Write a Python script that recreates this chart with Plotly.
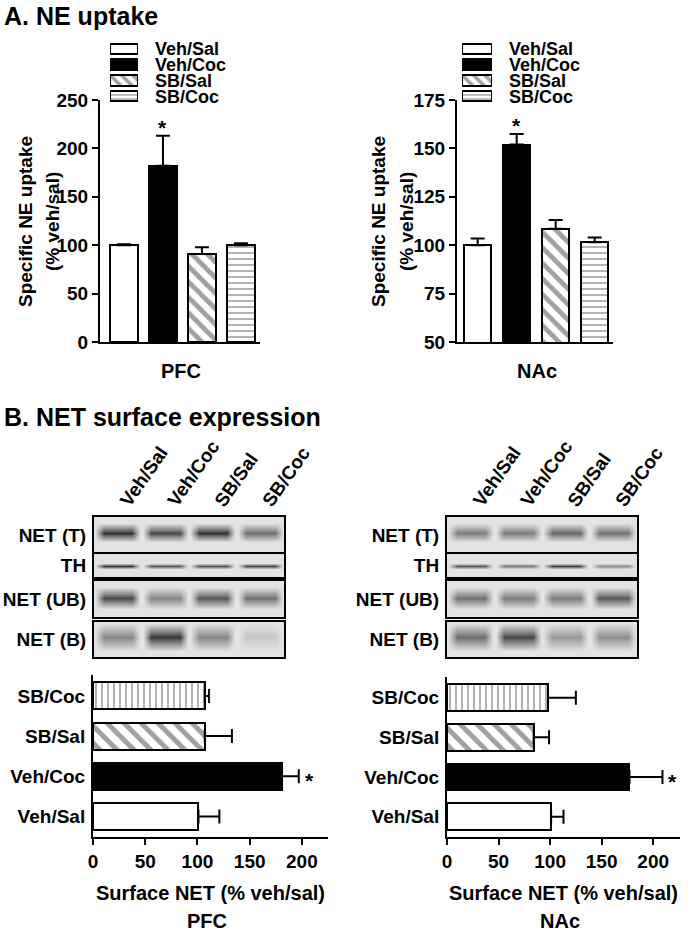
import plotly.graph_objects as go

W, H = 693, 934
FONT = "Liberation Sans, Arial, Helvetica, sans-serif"

# ---------------- data ----------------
groups = ["Veh/Sal", "Veh/Coc", "SB/Sal", "SB/Coc"]

# Panel A: specific NE uptake (% veh/sal)
uptake_pfc = [100, 182, 91, 100]
uptake_pfc_err = [1, 31, 7, 2]
uptake_nac = [100, 152, 108.5, 101.5]
uptake_nac_err = [3.5, 5.5, 4.5, 2.5]
uptake_pfc_ticks = [0, 50, 100, 150, 200, 250]
uptake_nac_ticks = [50, 75, 100, 125, 150, 175]

# Panel B: surface NET (% veh/sal)
surface_pfc = [101, 181, 107, 107]
surface_pfc_err = [20, 16, 26, 4]
surface_nac = [101, 177, 84, 98]
surface_nac_err = [12, 32, 15, 27]
surface_ticks = [0, 50, 100, 150, 200]

significant = [False, True, False, False]

# Western blot band intensities (0 = background, 1 = darkest)
blot_rows = ["NET (T)", "TH", "NET (UB)", "NET (B)"]
pfc_net_t = [0.88, 0.78, 0.88, 0.62]
pfc_th = [0.85, 0.7, 0.72, 0.78]
pfc_net_ub = [0.78, 0.5, 0.72, 0.6]
pfc_net_b = [0.5, 0.85, 0.5, 0.15]
nac_net_t = [0.55, 0.55, 0.65, 0.6]
nac_th = [0.7, 0.55, 0.8, 0.45]
nac_net_ub = [0.6, 0.55, 0.55, 0.72]
nac_net_b = [0.62, 0.78, 0.4, 0.45]

# ---------------- styles ----------------
fills = ["white", "black", "white", "white"]
patterns_a = ["", "", "\\", "-"]
patterns_b = ["", "", "\\", "|"]


def fx(px):
    return px / W


def fy(py):
    return 1 - py / H


def font(size):
    return dict(family=FONT, size=size, color="black", weight="bold")


fig = go.Figure()
annotations = []

axis_common = dict(showgrid=False, zeroline=False, showline=True, linecolor="black",
                   linewidth=2, tickcolor="black", tickwidth=2, ticklen=6,
                   tickfont=font(19), automargin=False)

layout_axes = {}


def ax_name(kind, n):
    return f"{kind}axis" if n == 1 else f"{kind}axis{n}"


def ref(kind, n):
    return kind if n == 1 else f"{kind}{n}"


def paper_text(x, y, text, size, xanchor="center", yanchor="middle", angle=0):
    annotations.append(dict(x=fx(x), y=fy(y), xref="paper", yref="paper", text=text,
                            showarrow=False, xanchor=xanchor, yanchor=yanchor,
                            textangle=angle, font=font(size)))


# ---------- Panel A bar charts ----------
def vbar_panel(n, vals, errs, ticks, xdom, ydom, xrange_, yrange_, region, region_x,
               t1x, t2x):
    fig.add_trace(go.Bar(
        x=groups, y=vals, width=0.7,
        marker=dict(color=fills, line=dict(color="black", width=2),
                    pattern=dict(shape=patterns_a, fgcolor="black", bgcolor="white",
                                 size=[8, 8, 11, 6], solidity=[0.3, 0.3, 0.45, 0.27])),
        error_y=dict(type="data", array=errs, arrayminus=[0] * len(errs), symmetric=False,
                     color="black", thickness=2, width=7),
        xaxis=ref("x", n), yaxis=ref("y", n), showlegend=False, hoverinfo="skip"))
    layout_axes[ax_name("x", n)] = dict(axis_common, domain=[fx(xdom[0]), fx(xdom[1])],
                                       range=xrange_, showticklabels=False, ticks="",
                                       anchor=ref("y", n), type="category")
    layout_axes[ax_name("y", n)] = dict(axis_common, domain=[fy(ydom[1]), fy(ydom[0])],
                                       range=yrange_, tickvals=ticks, ticks="outside",
                                       anchor=ref("x", n))
    for g, v, e, s in zip(groups, vals, errs, significant):
        if s:
            annotations.append(dict(x=g, y=v + e, xref=ref("x", n), yref=ref("y", n),
                                    text="*", showarrow=False, xanchor="center",
                                    yanchor="bottom", yshift=-5, font=font(21)))
    paper_text(region_x, 371, region, 20)
    paper_text(t1x, 222, "Specific NE uptake", 19, angle=-90)
    paper_text(t2x, 222, "(% veh/sal)", 19, angle=-90)


vbar_panel(1, uptake_pfc, uptake_pfc_err, uptake_pfc_ticks, (100, 260), (100, 342),
           [-0.615, 3.49], [0, 250], "PFC", 181, 25, 52)
vbar_panel(2, uptake_nac, uptake_nac_err, uptake_nac_ticks, (457, 613), (100, 342),
           [-0.53, 3.47], [50, 175], "NAc", 537, 378, 406)


# ---------- Panel A legends ----------
def legend_panel(n, xdom, ydom):
    fig.add_trace(go.Bar(
        y=groups, x=[1] * len(groups), orientation="h", width=0.66, cliponaxis=False,
        marker=dict(color=fills, line=dict(color="black", width=2),
                    pattern=dict(shape=patterns_a, fgcolor="black", bgcolor="white",
                                 size=[8, 8, 8, 4], solidity=[0.3, 0.3, 0.45, 0.35])),
        xaxis=ref("x", n), yaxis=ref("y", n), showlegend=False, hoverinfo="skip"))
    layout_axes[ax_name("x", n)] = dict(domain=[fx(xdom[0]), fx(xdom[1])], range=[0, 1],
                                       visible=False, automargin=False,
                                       anchor=ref("y", n))
    layout_axes[ax_name("y", n)] = dict(domain=[fy(ydom[1]), fy(ydom[0])],
                                       range=[len(groups) - 0.5, -0.5], visible=False,
                                       automargin=False, type="category",
                                       anchor=ref("x", n))
    for g in groups:
        annotations.append(dict(x=1, y=g, xref=ref("x", n), yref=ref("y", n), text=g,
                                showarrow=False, xanchor="left", yanchor="middle",
                                xshift=15, height=15, font=font(18)))


legend_panel(3, (110, 138), (41, 104))
legend_panel(4, (462, 492), (41, 104))


# ---------- Panel B horizontal bar charts ----------
def hbar_panel(n, vals, errs, xdom, ydom, xrange_, region, cx):
    fig.add_trace(go.Bar(
        y=groups, x=vals, orientation="h", width=0.67,
        marker=dict(color=fills, line=dict(color="black", width=2),
                    pattern=dict(shape=patterns_b, fgcolor="black", bgcolor="white",
                                 size=[8, 8, 12, 6], solidity=[0.3, 0.3, 0.42, 0.27])),
        error_x=dict(type="data", array=errs, arrayminus=[0] * len(errs), symmetric=False,
                     color="black", thickness=2, width=7),
        xaxis=ref("x", n), yaxis=ref("y", n), showlegend=False, hoverinfo="skip"))
    layout_axes[ax_name("x", n)] = dict(axis_common, domain=[fx(xdom[0]), fx(xdom[1])],
                                       range=xrange_, tickvals=surface_ticks,
                                       ticks="outside", anchor=ref("y", n))
    layout_axes[ax_name("y", n)] = dict(axis_common, domain=[fy(ydom[1]), fy(ydom[0])],
                                       range=[-0.51, 3.52], ticks="", type="category",
                                       ticklabelstandoff=2, anchor=ref("x", n))
    for g, v, e, s in zip(groups, vals, errs, significant):
        if s:
            annotations.append(dict(x=v + e, y=g, xref=ref("x", n), yref=ref("y", n),
                                    text="*", showarrow=False, xanchor="left",
                                    yanchor="middle", xshift=4, yshift=-4, font=font(21)))
    paper_text(cx, 893, "Surface NET (% veh/sal)", 20)
    paper_text(cx - 3, 934, region, 20, yanchor="bottom")


hbar_panel(5, surface_pfc, surface_pfc_err, (93, 328), (675, 837), [0, 225], "PFC", 210)
hbar_panel(6, surface_nac, surface_nac_err, (447, 680), (677, 837), [0, 226], "NAc", 563)


# ---------- Panel B western blots ----------
blot_geom = {  # row: (top px, bottom px, band centre fraction, band half-width fraction)
    "NET (T)": (517, 553, 0.56, 0.26),
    "TH": (554, 577, 0.48, 0.15),
    "NET (UB)": (581, 617, 0.53, 0.3),
    "NET (B)": (622, 657, 0.57, 0.4),
}
pfc_blots = [pfc_net_t, pfc_th, pfc_net_ub, pfc_net_b]
nac_blots = [nac_net_t, nac_th, nac_net_ub, nac_net_b]


def blot(n, row, intens, xdom):
    top, bot, c, t = blot_geom[row]
    xs, hp, lane = [0.0], [0.0], [0]
    for j in range(len(groups)):
        L = j + 0.5
        xs += [L - 0.47, L - 0.3, L + 0.3, L + 0.47]
        hp += [0.0, 1.0, 1.0, 0.0]
        lane += [j] * 4
    xs.append(float(len(groups)))
    hp.append(0.0)
    lane.append(len(groups) - 1)
    ys = [0.0, c - t, c, c + t, 1.0]
    vp = [0.0, 0.0, 1.0, 0.0, 0.0]
    z = [[v * h * intens[k] for h, k in zip(hp, lane)] for v in vp]
    fig.add_trace(go.Heatmap(
        x=xs, y=ys, z=z, zmin=0, zmax=1, zsmooth="best", showscale=False,
        colorscale=[[0, "#e3e3e3"], [0.5, "#878787"], [1, "#161616"]],
        xaxis=ref("x", n), yaxis=ref("y", n), hoverinfo="skip"))
    layout_axes[ax_name("x", n)] = dict(domain=[fx(xdom[0]), fx(xdom[1])],
                                       range=[0, len(groups)], showgrid=False,
                                       zeroline=False, showline=True, mirror=True,
                                       linecolor="black", linewidth=2, ticks="",
                                       showticklabels=False, automargin=False,
                                       anchor=ref("y", n))
    layout_axes[ax_name("y", n)] = dict(domain=[fy(bot), fy(top)], range=[0, 1],
                                       showgrid=False, zeroline=False, showline=True,
                                       mirror=True, linecolor="black", linewidth=2,
                                       ticks="", tickvals=[0.5], ticktext=[row],
                                       ticklabelstandoff=2, automargin=False,
                                       tickfont=font(19), anchor=ref("x", n))


n = 7
for xdom, sets in [((94, 284), pfc_blots), ((447, 637), nac_blots)]:
    for row, intens in zip(blot_rows, sets):
        blot(n, row, intens, xdom)
        n += 1
    lane_w = (xdom[1] - xdom[0]) / len(groups)
    for j, g in enumerate(groups):
        lx = xdom[0] + (j + 0.5) * lane_w - 5
        paper_text(lx, 513, g, 19, xanchor="left", yanchor="bottom", angle=-55)

# ---------- panel titles ----------
paper_text(2, 0, "A. NE uptake", 25, xanchor="left", yanchor="top")
paper_text(2, 401, "B. NET surface expression", 25, xanchor="left", yanchor="top")

fig.update_layout(
    width=W, height=H, autosize=False,
    margin=dict(l=0, r=0, t=0, b=0, pad=0, autoexpand=False),
    paper_bgcolor="white", plot_bgcolor="rgba(0,0,0,0)",
    font=dict(family=FONT, color="black"),
    showlegend=False, bargap=0,
    annotations=annotations,
    **layout_axes,
)

page_css = ("var s=document.createElement('style');"
            "s.textContent='html,body{margin:0;padding:0;overflow:hidden;"
            "width:693px;height:934px;}';"
            "document.head.appendChild(s);")

fig.write_html("out.html", config={"displayModeBar": False}, post_script=page_css)
